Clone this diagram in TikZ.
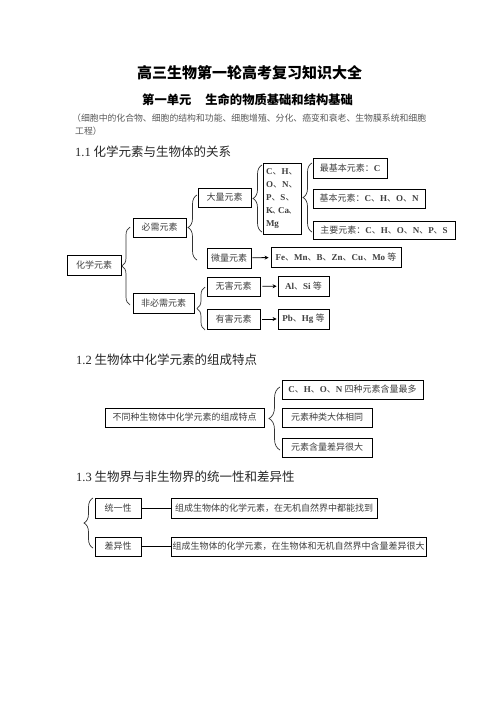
\documentclass[tikz,border=0pt]{standalone}
\usepackage{fontspec}
\setmainfont{Noto Sans CJK SC}
\newfontfamily\tms{Liberation Serif}
\newcommand\lt[1]{{\tms\bfseries #1}}
\newcommand\lnum[1]{{\tms #1}}
\usetikzlibrary{decorations.pathreplacing,arrows.meta}
\begin{document}
\begin{tikzpicture}[x=1pt,y=-1pt,
  bx/.style={draw=black, line width=0.8pt, inner sep=0pt, font=\fontsize{9}{11}\selectfont, text=black!75},
  hd/.style={anchor=west, inner sep=0pt, font=\fontsize{12.5}{14}\selectfont, text=black!85},
  br/.style={draw=black!80, line width=0.7pt, decorate, decoration={brace, amplitude=#1}},
  ar/.style={draw=black, line width=0.9pt, -{Stealth[length=4pt,width=4pt]}},
  cn/.style={draw=black, line width=0.9pt}]
\useasboundingbox[fill=white] (0,0) rectangle (496,702);

% titles
\node[inner sep=0pt, font=\fontsize{15}{17}\selectfont\bfseries] (title) at (249.5,73) {高三生物第一轮高考复习知识大全};
\node[anchor=west, inner sep=0pt, font=\fontsize{12.3}{14}\selectfont\bfseries] (sub) at (142,100) {第一单元\hspace{14pt}生命的物质基础和结构基础};
\node[anchor=west, inner sep=0pt, font=\fontsize{8.85}{10}\selectfont, text=black!65] (par1) at (72,118) {（细胞中的化合物、细胞的结构和功能、细胞增殖、分化、癌变和衰老、生物膜系统和细胞};
\node[anchor=west, inner sep=0pt, font=\fontsize{8.85}{10}\selectfont, text=black!65] (par2) at (75,131) {工程）};
\node[hd] (h1) at (75,151.5) {\lnum{1.1} 化学元素与生物体的关系};
\node[hd] (h2) at (76,360) {\lnum{1.2} 生物体中化学元素的组成特点};
\node[hd] (h3) at (76,477) {\lnum{1.3} 生物界与非生物界的统一性和差异性};

% section 1.1
\node[bx, minimum width=54pt, minimum height=20pt] (hx) at (94,265) {化学元素};
\node[bx, minimum width=53pt, minimum height=19pt] (bx) at (159.5,227.5) {必需元素};
\node[bx, minimum width=61pt, minimum height=20pt] (fb) at (163.5,303) {非必需元素};
\node[bx, minimum width=53pt, minimum height=19pt] (dl) at (224.5,197.5) {大量元素};
\node[bx, minimum width=44pt, minimum height=20pt] (wl) at (229,258) {微量元素};
\node[bx, minimum width=53pt, minimum height=19pt] (wh) at (233.5,286.5) {无害元素};
\node[bx, minimum width=53pt, minimum height=20pt] (yh) at (233.5,319) {有害元素};
\node[bx, minimum width=38pt, minimum height=71pt, text width=32pt, align=left, font=\fontsize{9}{13}\selectfont] (ch) at (282,198.5)
  {\lt{C}、\lt{H}、\\\lt{O}、\lt{N}、\\\lt{P}、\lt{S}、\\\mbox{\lt{K}\hspace{-1pt}、\hspace{-3pt}\lt{Ca}\hspace{-1pt}、}\\\lt{Mg}};
\node[bx, minimum width=74pt, minimum height=20pt] (zj) at (350,168) {最基本元素：\lt{C}};
\node[bx, minimum width=112pt, minimum height=19pt] (jb) at (369,198.5) {基本元素：\lt{C}、\lt{H}、\lt{O}、\lt{N}};
\node[bx, minimum width=142pt, minimum height=18pt] (zy) at (384,230) {主要元素：\lt{C}、\lt{H}、\lt{O}、\lt{N}、\lt{P}、\lt{S}};
\node[bx, minimum width=130pt, minimum height=20pt] (fe) at (336,257) {\lt{Fe}、\lt{Mn}、\lt{B}、\lt{Zn}、\lt{Cu}、\lt{Mo} 等};
\node[bx, minimum width=51pt, minimum height=20pt] (al) at (303.5,286) {\lt{Al}、\lt{Si} 等};
\node[bx, minimum width=51pt, minimum height=20pt] (pb) at (303.5,319) {\lt{Pb}、\lt{Hg} 等};

\draw[br=8pt] (130,305) -- (130,227);
\draw[br=9pt] (197,260) -- (197,195);
\draw[br=8pt] (205,330) -- (205,287);
\draw[br=9pt] (262,232) -- (262,165);
\draw[br=9pt] (312,232) -- (312,163);

\draw[ar, shorten <=1pt, shorten >=2pt] (wl) -- (fe);
\draw[ar, shorten <=2pt, shorten >=1pt] (wh) -- (al);
\draw[ar, shorten <=2pt, shorten >=1pt] (yh) -- (pb);

% section 1.2
\node[bx, minimum width=159pt, minimum height=19pt] (ts) at (184.5,417.5) {不同种生物体中化学元素的组成特点};
\node[bx, minimum width=141pt, minimum height=19pt] (c1) at (352.5,389.5) {\lt{C}、\lt{H}、\lt{O}、\lt{N} 四种元素含量最多};
\node[bx, minimum width=90pt, minimum height=19pt] (c2) at (327,417.5) {元素种类大体相同};
\node[bx, minimum width=90pt, minimum height=19pt] (c3) at (327,447.5) {元素含量差异很大};
\draw[br=11pt] (280,450) -- (280,387);

% section 1.3
\node[bx, minimum width=46pt, minimum height=20pt] (ty) at (118,508) {统一性};
\node[bx, minimum width=46pt, minimum height=19pt] (cy) at (118,546.5) {差异性};
\node[bx, minimum width=206pt, minimum height=20pt] (l1) at (274,508) {组成生物体的化学元素，在无机自然界中都能找到};
\node[bx, minimum width=255pt, minimum height=19pt] (l2) at (298.5,546.5) {组成生物体的化学元素，在生物体和无机自然界中含量差异很大};
\draw[br=9pt] (93,548) -- (93,498);
\draw[cn] (ty) -- (l1);
\draw[cn] (cy) -- (l2);
\end{tikzpicture}
\end{document}
